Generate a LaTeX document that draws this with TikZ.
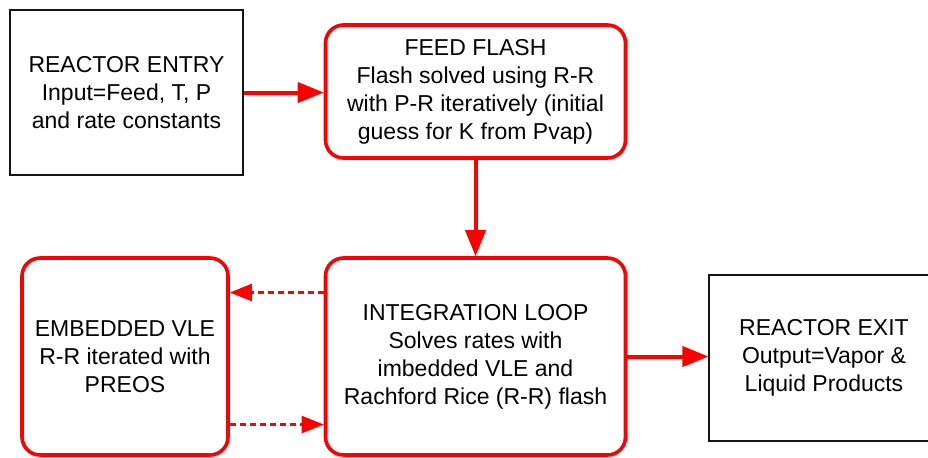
\documentclass[tikz,border=0pt]{standalone}
\usepackage{fontspec}
\setmainfont{Liberation Sans}
\usepackage{tikz}
\usetikzlibrary{arrows.meta,positioning,calc}
\definecolor{FlowRed}{RGB}{255,0,0}
\definecolor{BoxBlack}{RGB}{20,20,20}
\tikzset{
  plainbox/.style ={rectangle, draw=BoxBlack, line width=.6pt, fill=white,
                    text=black, align=center, inner sep=2pt,
                    font=\fontsize{11.5}{14}\selectfont},
  redbox/.style   ={rectangle, rounded corners=9pt, draw=FlowRed, line width=1.8pt,
                    fill=white, text=black, align=center, inner sep=2pt,
                    font=\fontsize{11.5}{14}\selectfont},
  arr/.style      ={-{Triangle[length=13pt,width=10pt]}, draw=FlowRed, line width=2pt},
  arrdash/.style  ={-{Triangle[length=11pt,width=8.5pt]}, draw=FlowRed, line width=1.1pt,
                    dash pattern=on 3pt off 2pt},
}
\begin{document}
\begin{tikzpicture}[x=0.5pt,y=-0.5pt]
  \useasboundingbox (0,0) rectangle (928,457);

  \node[plainbox,minimum width=116.5pt,minimum height=82.5pt] (entry) at (126.5,92.5)
    {REACTOR ENTRY\\Input=Feed, T, P\\and rate constants};
  \node[redbox,minimum width=150pt,minimum height=66.5pt] (flash) at (475.5,91.5)
    {FEED FLASH\\Flash solved using R-R\\with P-R iteratively (initial\\guess for K from Pvap)};
  \node[redbox,minimum width=150pt,minimum height=98.5pt] (integ) at (475.5,356.5)
    {INTEGRATION LOOP\\Solves rates with\\imbedded VLE and\\Rachford Rice (R-R) flash};
  \node[redbox,minimum width=103pt,minimum height=98.5pt] (vle) at (125,356.5)
    {EMBEDDED VLE\\R-R iterated with\\PREOS};
  \node[plainbox,minimum width=115pt,minimum height=83pt] (exit) at (824,358)
    {REACTOR EXIT\\Output=Vapor \&\\Liquid Products};

  \draw[arr] (entry.east) -- (entry.east -| flash.west);
  \draw[arr] (flash) -- (integ);
  \draw[arr] (integ.east) -- (integ.east -| exit.west);

  % VLE called from inside the loop
  \draw[arrdash] ([yshift=32pt]integ.west) -- ([yshift=32pt]vle.east);
  \draw[arrdash] ([yshift=-34pt]vle.east) -- ([yshift=-34pt]integ.west);
\end{tikzpicture}
\end{document}
